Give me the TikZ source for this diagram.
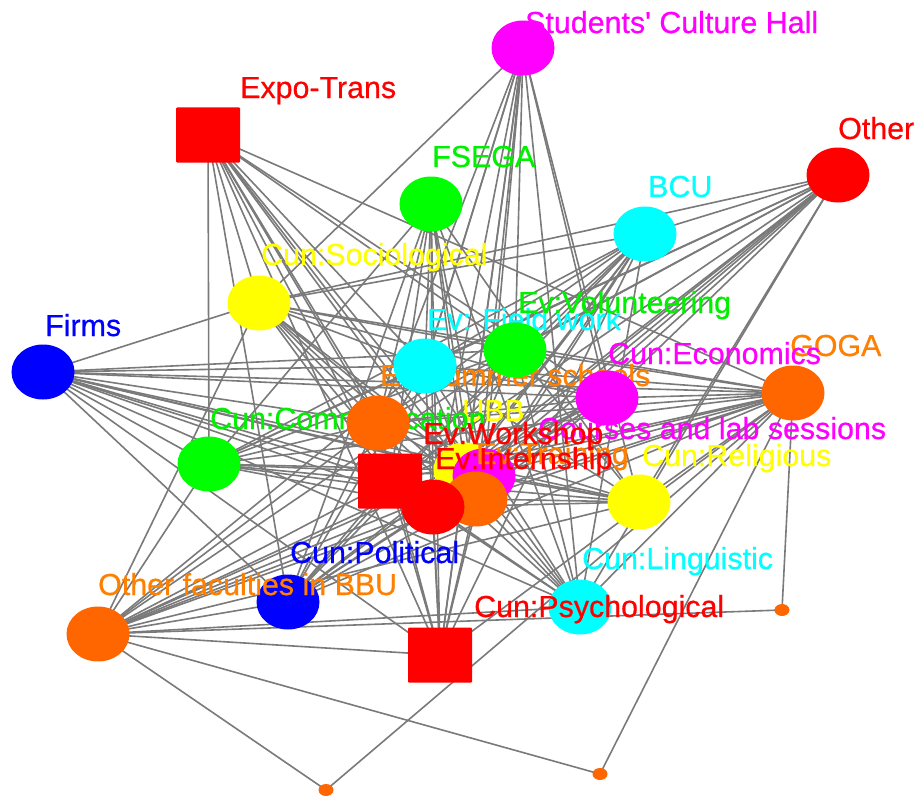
\documentclass[tikz,border=0pt]{standalone}
\usepackage{fontspec}
\setmainfont{Liberation Sans}
\newfontfamily\lblfont{Liberation Sans}[FakeBold=0.6]
\usetikzlibrary{shapes.geometric}
\pgfdeclarelayer{bgl}
\pgfdeclarelayer{edges}
\pgfsetlayers{bgl,edges,main}
\definecolor{cR}{HTML}{FF0000}
\definecolor{cG}{HTML}{00FF00}
\definecolor{cC}{HTML}{00FFFF}
\definecolor{cM}{HTML}{FF00FF}
\definecolor{cY}{HTML}{FFFF00}
\definecolor{cB}{HTML}{0000FF}
\definecolor{cO}{HTML}{FF6600}
\definecolor{lO}{HTML}{FF8000}
\definecolor{lG}{HTML}{00F000}
\definecolor{eg}{HTML}{7A7A7A}
\tikzset{
  vtx/.style={ellipse,fill=#1,draw=none,minimum width=63bp,minimum height=55bp,inner sep=0pt},
  sqv/.style={rectangle,rounded corners=1bp,fill=#1,draw=none,minimum width=64bp,minimum height=55bp,inner sep=0pt},
  dotv/.style={ellipse,fill=cO,draw=none,minimum width=15bp,minimum height=12bp,inner sep=0pt},
  lbl/.style={anchor=base west,inner sep=0pt,text=#1,font=\lblfont\fontsize{30.5}{30.5}\selectfont},
  edge/.style={draw=eg,line width=1.6bp}
}
\begin{document}
\begin{tikzpicture}[x=1bp,y=-1bp]
\begin{pgfonlayer}{bgl}
\fill[white] (0,0) rectangle (921,801);
\end{pgfonlayer}
\useasboundingbox (0,0) rectangle (921,801);
% vertices and labels, in drawing order
\node[vtx=cB] (fir) at (43,372) {};
\node[lbl=cB] (firL) at (45,336) {Firms};
\node[vtx=cY] (soc) at (259,303) {};
\node[lbl=cY] (socL) at (261,265) {Cun:Sociological};
\node[sqv=cR] (et) at (208,135) {};
\node[lbl=cR] (etL) at (240,98) {Expo-Trans};
\node[vtx=cM] (sch) at (523,48) {};
\node[lbl=cM] (schL) at (525,33) {Students' Culture Hall};
\node[vtx=cG] (fs) at (431,204) {};
\node[lbl=lG] (fsL) at (432,167) {FSEGA};
\node[vtx=cR] (oth) at (838,175) {};
\node[lbl=cR] (othL) at (838,139) {Other};
\node[vtx=cC] (bcu) at (645,234) {};
\node[lbl=cC] (bcuL) at (648,197) {BCU};
\node[vtx=cY] (ubb) at (465,470) {};
\node[lbl=cY] (ubbL) at (462,421) {UBB};
\node[vtx=cM] (cl) at (484,476) {};
\node[lbl=cM] (clL) at (538,439) {Courses and lab sessions};
\node[vtx=cG] (com) at (209,464) {};
\node[lbl=lG] (comL) at (210,429) {Cun:Communication};
\node[vtx=cO] (ss) at (378,423) {};
\node[lbl=lO] (ssL) at (380,386) {Ev:Summer schools};
\node[vtx=cC] (fw) at (425,366) {};
\node[lbl=cC] (fwL) at (427,330) {Ev: Field work};
\node[vtx=cG] (vol) at (515,350) {};
\node[lbl=lG] (volL) at (518,313) {Ev:Volunteering};
\node[vtx=cO] (goga) at (793,393) {};
\node[lbl=lO] (gogaL) at (790,356) {GOGA};
\node[vtx=cM] (eco) at (607,398) {};
\node[lbl=cM] (ecoL) at (608,364) {Cun:Economics};
\node[vtx=cO] (tr) at (476,499) {};
\node[lbl=lO] (trL) at (476,464) {Ev:Training};
\node[sqv=cR] (ws) at (390,481) {};
\node[lbl=cR] (wsL) at (423,444) {Ev:Workshop};
\node[vtx=cR] (intr) at (433,507) {};
\node[lbl=cR] (intrL) at (435,469) {Ev:Internship};
\node[vtx=cY] (rel) at (639,502) {};
\node[lbl=cY] (relL) at (642,466) {Cun:Religious};
\node[vtx=cC] (lin) at (580,607) {};
\node[lbl=cC] (linL) at (582,569) {Cun:Linguistic};
\node[sqv=cR] (psy) at (440,655) {};
\node[lbl=cR] (psyL) at (474,617) {Cun:Psychological};
\node[vtx=cB] (pol) at (288,602) {};
\node[lbl=cB] (polL) at (290,563) {Cun:Political};
\node[vtx=cO] (ofb) at (98,634) {};
\node[lbl=lO] (ofbL) at (98,595) {Other faculties in BBU};
\node[dotv] (d1) at (326,790) {};
\node[dotv] (d2) at (600,774) {};
\node[dotv] (d3) at (782,610) {};
% edges
\begin{pgfonlayer}{edges}
\foreach \a/\b in {
 sch/soc,sch/ss,sch/fw,sch/ubb,sch/cl,sch/ws,sch/intr,sch/tr,sch/vol,sch/eco,sch/rel,sch/lin,sch/psy,
 et/com,et/soc,et/pol,et/psy,et/intr,et/ws,et/ss,et/tr,et/cl,et/fw,et/vol,et/eco,et/goga,et/ubb,
 oth/soc,oth/fw,oth/vol,oth/eco,oth/ss,oth/ubb,oth/cl,oth/ws,oth/intr,oth/tr,oth/rel,oth/lin,oth/com,oth/pol,oth/bcu,
 fs/ss,fs/ws,fs/intr,fs/tr,fs/cl,fs/ubb,fs/pol,fs/com,fs/psy,fs/lin,fs/rel,fs/fw,
 bcu/fw,bcu/vol,bcu/ss,bcu/ws,bcu/intr,bcu/cl,bcu/ubb,bcu/com,bcu/soc,bcu/pol,bcu/psy,bcu/tr,bcu/lin,
 fir/soc,fir/fw,fir/vol,fir/eco,fir/goga,fir/ss,fir/ubb,fir/ws,fir/intr,fir/tr,fir/cl,fir/rel,fir/com,fir/pol,fir/lin,fir/psy,
 goga/fw,goga/vol,goga/eco,goga/ss,goga/cl,goga/ubb,goga/ws,goga/intr,goga/tr,goga/rel,goga/lin,goga/psy,goga/com,goga/soc,goga/pol,goga/d1,goga/d2,goga/d3,
 ofb/pol,ofb/psy,ofb/lin,ofb/rel,ofb/ws,ofb/intr,ofb/tr,ofb/cl,ofb/ubb,ofb/ss,ofb/fw,ofb/vol,ofb/eco,ofb/com,ofb/soc,ofb/d1,ofb/d2,ofb/d3,
 ubb/soc,ubb/com,ubb/pol,ubb/lin,ubb/psy,ubb/rel,ubb/eco,ubb/fw,ubb/vol,ubb/ss,
 soc/fw,soc/vol,soc/ss,soc/ws,soc/intr,soc/cl,soc/tr,soc/eco,
 com/fw,com/vol,com/ss,com/ws,com/cl,com/intr,com/tr,
 pol/ws,pol/cl,pol/intr,pol/ss,pol/fw,pol/tr,pol/vol,
 lin/cl,lin/ws,lin/tr,lin/intr,lin/ss,lin/vol,lin/fw,
 psy/ws,psy/cl,psy/intr,psy/ss,psy/fw,psy/tr,
 rel/cl,rel/fw,rel/vol,rel/ss,rel/intr,rel/ws,rel/tr,
 eco/cl,eco/ws,eco/intr,eco/ss,eco/fw,eco/tr}
 { \draw[edge] (\a.center) -- (\b.center); }
\end{pgfonlayer}
\end{tikzpicture}
\end{document}
